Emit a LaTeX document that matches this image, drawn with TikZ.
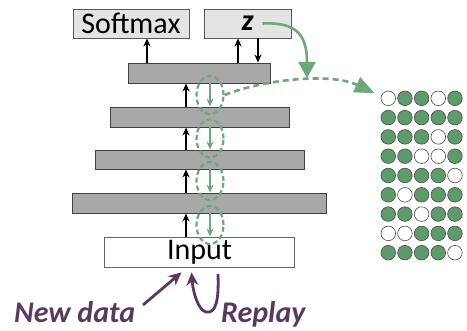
\documentclass[tikz,border=0pt]{standalone}
\usepackage{fontspec}
\setmainfont{Carlito}
\usetikzlibrary{arrows.meta,calc,shapes.geometric}

\definecolor{leafgreen}{HTML}{5E9B6A}
\definecolor{dashgreen}{HTML}{6FA67A}
\definecolor{plum}{HTML}{5A3A5C}
\definecolor{layergray}{HTML}{A8A8A8}
\definecolor{boxgray}{HTML}{E4E4E4}

\tikzset{
	layer/.style={draw=black!75, fill=layergray, line width=0.9pt, minimum height=20pt, inner sep=0pt},
	headbox/.style={draw=black!65, fill=boxgray, line width=0.8pt, minimum height=29pt, inner sep=0pt, font=\fontsize{30}{30}\selectfont},
	fwd/.style={-{Stealth[length=8pt,width=7pt]}, line width=1.5pt},
	ring/.style={ellipse, draw=dashgreen, line width=2.2pt, dash pattern=on 5pt off 3pt, minimum width=27pt, minimum height=38pt, inner sep=0pt},
	back/.style={-{Stealth[length=8pt,width=7pt]}, draw=dashgreen, line width=1.5pt},
	cell/.style={circle, draw=black!70, line width=0.6pt, minimum size=14.6pt, inner sep=0pt},
	purp/.style={draw=plum, line width=2.8pt, -{Stealth[length=13pt,width=12pt]}},
	lbl/.style={text=plum, font=\fontsize{30}{30}\selectfont\bfseries\itshape}
}

\begin{document}
\begin{tikzpicture}[x=1pt, y=-1pt]
	\useasboundingbox (0,0) rectangle (467,331);
	% network stack
	\node[headbox, minimum width=116pt] (soft) at (131,23.5) {Softmax};
	\node[headbox, minimum width=87pt] (z) at (247.5,23.5) {\bfseries\itshape z};
	\node[layer, minimum width=142pt] (L1) at (199.5,73) {};
	\node[layer, minimum width=179pt] (L2) at (199.5,117) {};
	\node[layer, minimum width=209pt, minimum height=19pt] (L3) at (199.5,159.5) {};
	\node[layer, minimum width=254pt] (L4) at (199.5,203) {};
	\node[draw=black!60, fill=white, line width=0.8pt, minimum width=190pt, minimum height=30pt, inner sep=0pt, font=\fontsize{30}{30}\selectfont] (in) at (199.5,252) {Input};

	% forward connections
	\draw[fwd] ([xshift=-52.5pt]L1.north) -- ([xshift=-52.5pt]L1.north |- soft.south);
	\draw[fwd] ([xshift=-9.5pt]z.south |- L1.north) -- ([xshift=-9.5pt]z.south);
	\draw[fwd] ([xshift=10.5pt]z.south) -- ([xshift=10.5pt]z.south |- L1.north);
	\draw[fwd] ([xshift=-13.5pt]L2.north) -- ([xshift=-13.5pt]L1.south);
	\draw[fwd] ([xshift=-13.5pt]L3.north) -- ([xshift=-13.5pt]L2.south);
	\draw[fwd] ([xshift=-13.5pt]L4.north) -- ([xshift=-13.5pt]L3.south);
	\draw[fwd] ([xshift=-13.5pt]in.north) -- ([xshift=-13.5pt]L4.south);

	% backward (generative) connections
	\draw[back] ([xshift=10.5pt]L1.south) -- ([xshift=10.5pt]L2.north);
	\draw[back] ([xshift=10.5pt]L2.south) -- ([xshift=10.5pt]L3.north);
	\draw[back] ([xshift=10.5pt]L3.south) -- ([xshift=10.5pt]L4.north);
	\draw[back] ([xshift=10.5pt]L4.south) -- ([xshift=10.5pt]in.north);
	\node[ring] (r1) at ($(L1.south)!0.5!(L2.north)+(10.5,0)$) {};
	\node[ring] (r2) at ($(L2.south)!0.5!(L3.north)+(10.5,0)$) {};
	\node[ring] (r3) at ($(L3.south)!0.5!(L4.north)+(10.5,0)$) {};
	\node[ring] (r4) at ($(L4.south)!0.5!(in.north)+(10.5,0)$) {};

	% replayed samples
	\foreach \r/\pat in {1/{0,1,1,0,1}, 2/{1,1,1,1,1}, 3/{1,1,1,0,1}, 4/{1,1,0,0,1}, 5/{1,1,1,1,0},
		6/{1,0,1,1,1}, 7/{1,1,0,1,1}, 8/{0,0,1,1,1}, 9/{1,1,1,1,0}}{
		\foreach \v [count=\c] in \pat {
			\ifnum\v=1 \def\cfill{leafgreen}\else \def\cfill{white}\fi
			\node[cell, fill=\cfill] (c-\r-\c) at ({371.6+16.67*\c}, {79+19.3*\r}) {};
		}
	}
	\coordinate (ztip) at (307,78);
	\coordinate (gtip) at ($(c-1-1.west)+(-6,-5)$);
	\draw[draw=dashgreen, line width=2.6pt, -{Triangle[length=16pt,width=17pt]}] ([xshift=15pt]z.center) .. controls (296,22) and (307,34) .. (ztip);
	\draw[draw=dashgreen, line width=2.6pt, dash pattern=on 6pt off 4pt, -{Triangle[length=20pt,width=16pt]}] (r1.east) .. controls (262,80) and (330,72) .. (gtip);

	% inputs
	\node[lbl, anchor=base west, inner sep=0pt] (newdata) at (14,323) {New data};
	\node[lbl, anchor=base west, inner sep=0pt] (replay) at (221,323) {Replay};
	\coordinate (ndtail) at (143,305);
	\coordinate (rptail) at (218,274);
	\draw[purp] (ndtail) -- ([shift={(-18pt,-5pt)}]in.south);
	\draw[purp] (rptail) .. controls (219,300) and (216,314) .. (206,312) .. controls (198,310) and (193,292) .. ([shift={(-8pt,-5pt)}]in.south);
\end{tikzpicture}
\end{document}
